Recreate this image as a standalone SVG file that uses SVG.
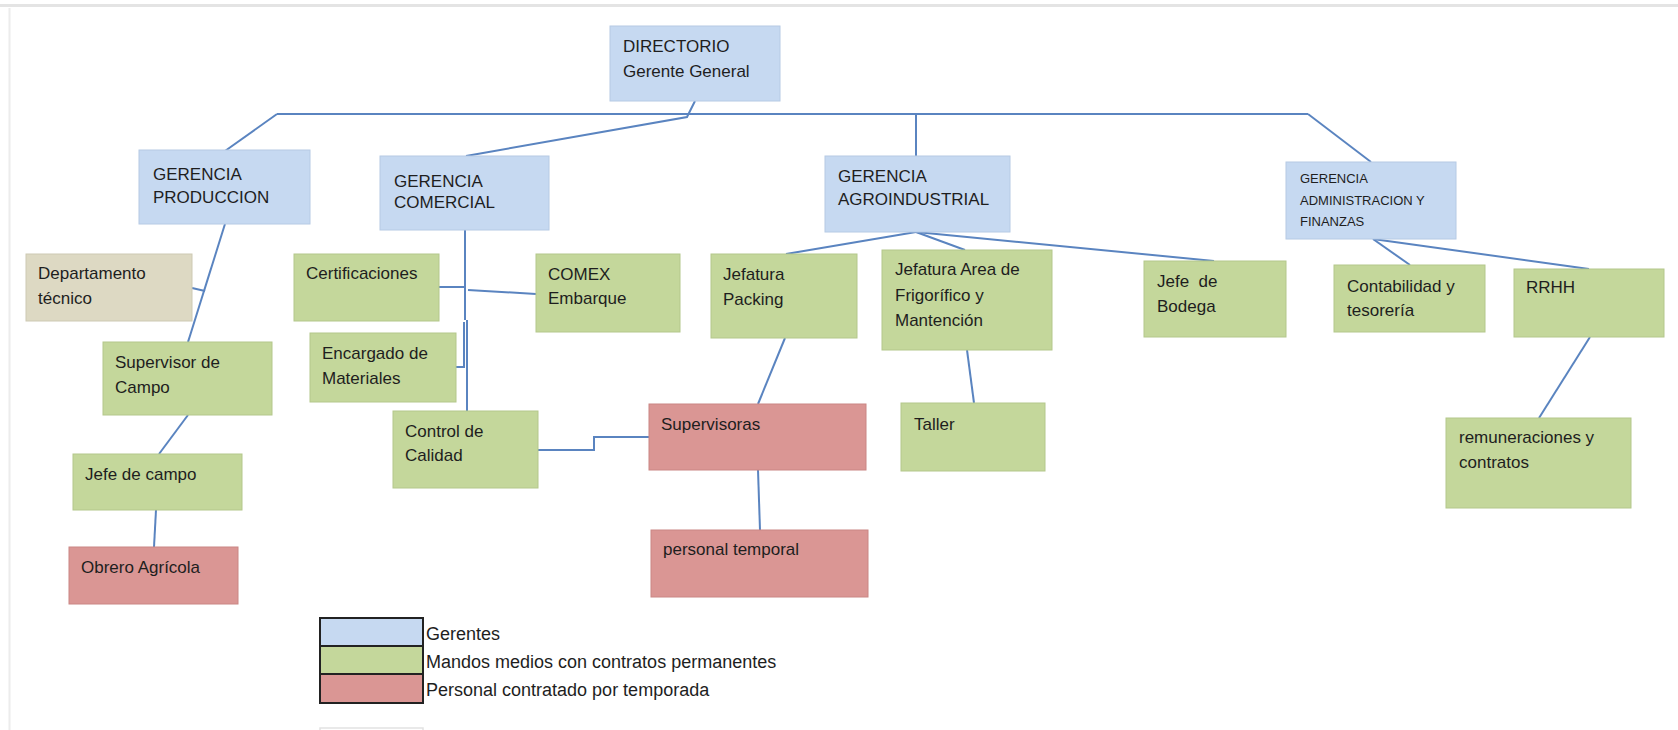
<svg xmlns="http://www.w3.org/2000/svg" width="1678" height="730" viewBox="0 0 1678 730">
<style>
.t{font-family:"Liberation Sans",Arial,sans-serif;font-size:17px;fill:#1e1e1e}
.s{font-size:13px}
.l{font-size:18px}
.g{fill:#c6d9f1;stroke:#b6cae4;stroke-width:1}
.m{fill:#c4d79b;stroke:#b4c78b;stroke-width:1}
.p{fill:#da9694;stroke:#ca8684;stroke-width:1}
.b{fill:#ddd9c3;stroke:#cdc9b3;stroke-width:1}
.c{fill:none;stroke:#5a84c0;stroke-width:2}
.k{stroke:#222;stroke-width:2}
</style>
<rect width="1678" height="730" fill="#ffffff"/>
<line x1="0" y1="5.5" x2="1678" y2="5.5" stroke="#e4e4e4" stroke-width="3"/>
<line x1="9.5" y1="8" x2="9.5" y2="730" stroke="#ececec" stroke-width="2"/>

<g id="connectors">
<polyline class="c" points="695,101 687,117 466,156"/>
<line class="c" x1="277" y1="114" x2="1308" y2="114"/>
<line class="c" x1="277" y1="114" x2="225" y2="151"/>
<line class="c" x1="916" y1="114" x2="916" y2="156"/>
<line class="c" x1="1308" y1="114" x2="1371" y2="162"/>
<line class="c" x1="225" y1="224" x2="188" y2="342"/>
<line class="c" x1="192" y1="288" x2="205" y2="291"/>
<line class="c" x1="188" y1="415" x2="159" y2="454"/>
<line class="c" x1="156" y1="510" x2="154" y2="547"/>
<line class="c" x1="465" y1="230" x2="465" y2="320"/>
<line class="c" x1="467" y1="320" x2="467" y2="411"/>
<line class="c" x1="439" y1="287" x2="465" y2="287"/>
<line class="c" x1="468" y1="290" x2="536" y2="294"/>
<polyline class="c" points="456,367 464,367 464,322"/>
<polyline class="c" points="538,450 594,450 594,437 649,437"/>
<line class="c" x1="916" y1="232" x2="786" y2="254"/>
<line class="c" x1="916" y1="232" x2="965" y2="250"/>
<line class="c" x1="916" y1="232" x2="1214" y2="261"/>
<line class="c" x1="785" y1="338" x2="758" y2="404"/>
<line class="c" x1="967" y1="350" x2="974" y2="403"/>
<line class="c" x1="758" y1="470" x2="760" y2="530"/>
<line class="c" x1="1373" y1="239" x2="1410" y2="265"/>
<line class="c" x1="1373" y1="239" x2="1589" y2="269"/>
<line class="c" x1="1590" y1="337" x2="1539" y2="418"/>
</g>

<g id="directorio"><rect class="g" x="610" y="26" width="170" height="75"/>
<text class="t" x="623" y="52">DIRECTORIO</text><text class="t" x="623" y="77">Gerente General</text></g>

<g id="ger-produccion"><rect class="g" x="139" y="150" width="171" height="74"/>
<text class="t" x="153" y="180">GERENCIA</text><text class="t" x="153" y="203">PRODUCCION</text></g>

<g id="ger-comercial"><rect class="g" x="380" y="156" width="169" height="74"/>
<text class="t" x="394" y="187">GERENCIA</text><text class="t" x="394" y="208">COMERCIAL</text></g>

<g id="ger-agro"><rect class="g" x="825" y="156" width="185" height="76"/>
<text class="t" x="838" y="182">GERENCIA</text><text class="t" x="838" y="205">AGROINDUSTRIAL</text></g>

<g id="ger-admin"><rect class="g" x="1286" y="162" width="170" height="77"/>
<text class="t s" x="1300" y="183">GERENCIA</text><text class="t s" x="1300" y="205">ADMINISTRACION Y</text><text class="t s" x="1300" y="226">FINANZAS</text></g>

<g id="depto-tecnico"><rect class="b" x="26" y="254" width="166" height="67"/>
<text class="t" x="38" y="279">Departamento</text><text class="t" x="38" y="304">técnico</text></g>

<g id="supervisor-campo"><rect class="m" x="103" y="342" width="169" height="73"/>
<text class="t" x="115" y="368">Supervisor de</text><text class="t" x="115" y="393">Campo</text></g>

<g id="jefe-campo"><rect class="m" x="73" y="454" width="169" height="56"/>
<text class="t" x="85" y="480">Jefe de campo</text></g>

<g id="obrero"><rect class="p" x="69" y="547" width="169" height="57"/>
<text class="t" x="81" y="573">Obrero Agrícola</text></g>

<g id="certificaciones"><rect class="m" x="294" y="254" width="145" height="67"/>
<text class="t" x="306" y="279">Certificaciones</text></g>

<g id="encargado"><rect class="m" x="310" y="333" width="146" height="69"/>
<text class="t" x="322" y="359">Encargado de</text><text class="t" x="322" y="384">Materiales</text></g>

<g id="control-calidad"><rect class="m" x="393" y="411" width="145" height="77"/>
<text class="t" x="405" y="437">Control de</text><text class="t" x="405" y="461">Calidad</text></g>

<g id="comex"><rect class="m" x="536" y="254" width="144" height="78"/>
<text class="t" x="548" y="280">COMEX</text><text class="t" x="548" y="304">Embarque</text></g>

<g id="jefatura-packing"><rect class="m" x="711" y="254" width="146" height="84"/>
<text class="t" x="723" y="280">Jefatura</text><text class="t" x="723" y="305">Packing</text></g>

<g id="jefatura-frigorifico"><rect class="m" x="882" y="250" width="170" height="100"/>
<text class="t" x="895" y="275">Jefatura Area de</text><text class="t" x="895" y="301">Frigorífico y</text><text class="t" x="895" y="326">Mantención</text></g>

<g id="jefe-bodega"><rect class="m" x="1144" y="261" width="142" height="76"/>
<text class="t" x="1157" y="287" xml:space="preserve">Jefe  de</text><text class="t" x="1157" y="312">Bodega</text></g>

<g id="supervisoras"><rect class="p" x="649" y="404" width="217" height="66"/>
<text class="t" x="661" y="430">Supervisoras</text></g>

<g id="taller"><rect class="m" x="901" y="403" width="144" height="68"/>
<text class="t" x="914" y="430">Taller</text></g>

<g id="personal-temporal"><rect class="p" x="651" y="530" width="217" height="67"/>
<text class="t" x="663" y="555">personal temporal</text></g>

<g id="contabilidad"><rect class="m" x="1334" y="265" width="151" height="67"/>
<text class="t" x="1347" y="292">Contabilidad y</text><text class="t" x="1347" y="316">tesorería</text></g>

<g id="rrhh"><rect class="m" x="1514" y="269" width="150" height="68"/>
<text class="t" x="1526" y="293">RRHH</text></g>

<g id="remuneraciones"><rect class="m" x="1446" y="418" width="185" height="90"/>
<text class="t" x="1459" y="443">remuneraciones y</text><text class="t" x="1459" y="468">contratos</text></g>

<g id="legend">
<rect class="k" x="320" y="618" width="103" height="28" fill="#c6d9f1"/>
<rect class="k" x="320" y="646" width="103" height="28" fill="#c4d79b"/>
<rect class="k" x="320" y="674" width="103" height="29" fill="#da9694"/>
<text class="t l" x="426" y="640">Gerentes</text>
<text class="t l" x="426" y="668">Mandos medios con contratos permanentes</text>
<text class="t l" x="426" y="696">Personal contratado por temporada</text>
<rect x="320" y="728" width="103" height="10" fill="none" stroke="#e2e2e2" stroke-width="1.5"/>
</g>
</svg>
